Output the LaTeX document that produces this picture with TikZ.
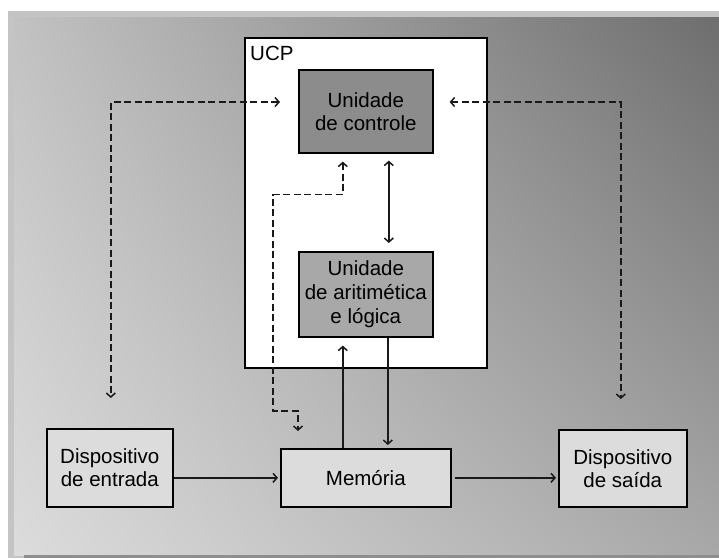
\documentclass[tikz,border=0pt]{standalone}
\usepackage{fontspec}
\setmainfont{Liberation Sans}
\usetikzlibrary{arrows.meta,shadings,calc}
\definecolor{bevel}{HTML}{C4C4C4}
\definecolor{bevdark}{HTML}{8E8E8E}
\definecolor{ucfill}{HTML}{8C8C8C}
\definecolor{ulafill}{HTML}{A8A8A8}
\definecolor{iofill}{HTML}{DCDCDC}
\begin{document}
\begin{tikzpicture}[x=1pt,y=-1pt,
  box/.style={draw=black, line width=1.6pt, inner sep=0pt, align=center,
    font=\fontsize{20.5}{23}\selectfont, anchor=north west},
  conn/.style={line width=1.5pt, draw=black!90},
  dsh/.style={conn, dash pattern=on 7pt off 3.5pt},
  tip/.style={{Straight Barb[length=4pt,width=9pt]}-{Straight Barb[length=4pt,width=9pt]}},
  endtip/.style={-{Straight Barb[length=4pt,width=9pt]}}]
\useasboundingbox (0,0) rectangle (719,558);
% background panel
\fill[white] (0,0) rectangle (719,558);
\fill[bevel] (8,11) rectangle (719,558);
\shade[upper left={rgb,255:red,194;green,194;blue,194},
       upper right={rgb,255:red,110;green,110;blue,110},
       lower left={rgb,255:red,220;green,220;blue,220},
       lower right={rgb,255:red,168;green,168;blue,168}]
  (14,17) rectangle (719,555);
\fill[bevdark] (24,555) rectangle (719,558);
% boxes
\node[box, fill=white, minimum width=242pt, minimum height=330pt] (ucp) at (244,37) {};
\node[anchor=base west, font=\fontsize{20.5}{23}\selectfont, inner sep=0pt] (ucplabel)
  at ($(ucp.north west)+(6,23)$) {UCP};
\node[box, fill=ucfill, minimum width=134pt, minimum height=83pt] (uc) at (298,69)
  {Unidade\\de controle};
\node[box, fill=ulafill, minimum width=134pt, minimum height=85pt,
  font=\fontsize{20.5}{24}\selectfont] (ula) at (298,251)
  {Unidade\\de aritimética\\e lógica};
\node[box, fill=iofill, minimum width=126pt, minimum height=78pt] (ent) at (46,428)
  {Dispositivo\\de entrada};
\node[box, fill=iofill, minimum width=170pt, minimum height=58pt] (mem) at (280,448)
  {Memória};
\node[box, fill=iofill, minimum width=128pt, minimum height=77pt] (sai) at (558,429)
  {Dispositivo\\de saída};
% coordinates for free ends
\coordinate (lt) at ($(uc.north west)+(-18,33)$);
\coordinate (lb) at ($(ent.north)+(1,-30)$);
\coordinate (rt) at ($(uc.north east)+(16,33)$);
\coordinate (rb) at ($(sai.north)+(-2,-30)$);
\coordinate (ia) at ($(uc.south)+(-23,8)$);
\coordinate (ib) at ($(mem.north west)+(18,-17)$);
% dashed control lines
\draw[dsh, tip] (lt) -| (lb);
\draw[dsh, tip] (rt) -| (rb);
\draw[dsh, tip] (ia) -- ++(0,33) -| ($(ib)+(-25,-20)$) -| (ib);
% solid data lines
\draw[conn, tip] ($(uc.south)+(23,7)$) -- ($(ula.north)+(23,-8)$);
\draw[conn, endtip] ($(mem.north)+(-23,0)$) -- ($(ula.south)+(-23,8)$);
\draw[conn, endtip] ($(ula.south)+(22,0)$) -- ($(mem.north)+(22,-3)$);
\draw[conn, endtip] ($(ent.east)+(0,10)$) -- ($(mem.west)+(-2,0)$);
\draw[conn, endtip] ($(mem.east)+(3,0)$) -- ($(sai.west)+(-2,9.5)$);
\end{tikzpicture}
\end{document}
